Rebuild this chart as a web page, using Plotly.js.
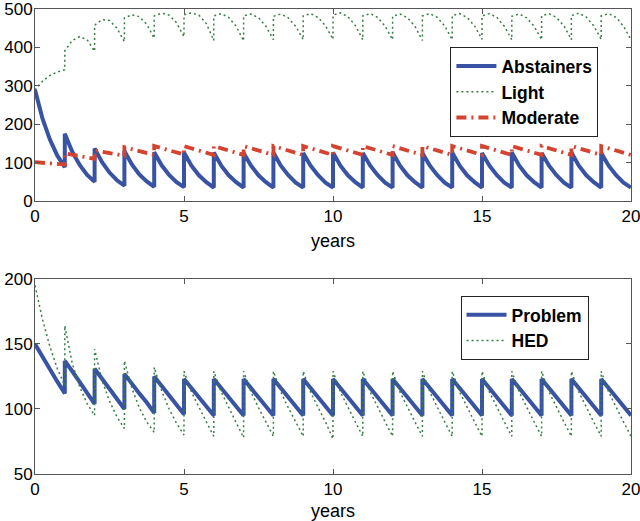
<!DOCTYPE html>
<html>
<head>
<meta charset="utf-8">
<script src="https://cdn.plot.ly/plotly-3.0.1.min.js"></script>
<style>html,body{margin:0;padding:0;background:#fff;}#chart{width:640px;height:521px;}</style>
</head>
<body>
<div id="chart"></div>
<script>
// time grid (years): per period start, quarter, half, three-quarter, end (before jump)
const years = [
0,0.25,0.5,0.75,1, 1,1.25,1.5,1.75,2, 2,2.25,2.5,2.75,3, 3,3.25,3.5,3.75,4, 4,4.25,4.5,4.75,5,
5,5.25,5.5,5.75,6, 6,6.25,6.5,6.75,7, 7,7.25,7.5,7.75,8, 8,8.25,8.5,8.75,9, 9,9.25,9.5,9.75,10,
10,10.25,10.5,10.75,11, 11,11.25,11.5,11.75,12, 12,12.25,12.5,12.75,13, 13,13.25,13.5,13.75,14, 14,14.25,14.5,14.75,15,
15,15.25,15.5,15.75,16, 16,16.25,16.5,16.75,17, 17,17.25,17.5,17.75,18, 18,18.25,18.5,18.75,19, 19,19.25,19.5,19.75,20
];

const abstainers = [
290,215,160,118,88, 175,128,94,68,50, 137,101,74,54,40, 130,95,69,51,37, 127,93,68,49,36,
126,92,67,49,35, 126,92,67,49,35, 125,92,67,49,35, 126,92,67,48,35, 125,92,67,48,35,
126,92,67,49,35, 125,92,67,48,35, 126,92,67,49,35, 125,92,67,48,35, 126,92,67,49,35,
125,92,67,48,35, 126,92,67,49,35, 125,92,67,48,35, 126,92,67,49,35, 125,92,67,48,35
];

const light = [
289,312,327,336,342, 391,418,428,420,390, 458,472,470,450,415, 477,485,480,460,424, 482,489,484,464,428,
485,490,484,462,418, 482,488,478,455,417, 482,487,477,455,420, 481,487,477,455,420, 482,488,478,456,421,
484,490,480,457,420, 482,488,478,455,420, 481,487,477,455,418, 482,488,478,456,420, 483,488,478,456,421,
482,488,478,455,420, 481,487,477,455,420, 482,488,478,456,420, 483,489,479,456,421, 482,488,478,455,420
];

const moderate = [
101,100,99,97,95, 124,120,116,113,110, 132,128,124,121,118, 140,135,130,125,120, 143,137,131,126,121,
143,137,131,126,120, 143,137,131,126,120, 143,137,131,126,120, 143,137,131,126,120, 143,137,131,126,120,
143,137,131,126,120, 143,137,131,126,120, 143,137,131,126,120, 143,137,131,126,120, 143,137,131,126,120,
143,137,131,126,120, 143,137,131,126,120, 143,137,131,126,120, 143,137,131,126,120, 143,137,131,126,120
];

const problem = [
150,140,131,121,112, 137,129,121,112,104, 131,123,116,108,100, 127,119,112,105,97, 125,118,110,103,96,
123,116,109,102,95, 123,116,109,102,95, 123,116,109,102,95, 123,116,109,102,95, 123,116,109,102,95,
123,116,109,102,95, 123,116,109,102,95, 123,116,109,102,95, 123,116,109,102,95, 123,116,109,102,95,
123,116,109,102,95, 123,116,109,102,95, 123,116,109,102,95, 123,116,109,102,95, 123,116,109,102,95
];

const hed = [
195,169,148,131,118, 164,135,117,104,95, 146,122,106,94,85, 137,116,101,90,82, 132,114,100,89,80,
129,113,101,90,79, 129,113,101,90,78, 129,113,101,90,79, 129,113,101,90,79, 129,113,101,90,77,
129,113,101,90,79, 129,113,101,90,79, 129,113,101,90,79, 129,113,101,90,79, 129,113,101,90,79,
129,113,101,90,79, 129,113,101,90,79, 129,113,101,90,79, 129,113,101,90,79, 129,113,101,90,79
];

const xTicks = [0,5,10,15,20];
const yTicksTop = [0,100,200,300,400,500];
const yTicksBottom = [50,100,150,200];

const BLUE = 'rgb(57,83,164)';
const RED = 'rgb(212,67,47)';
const GREEN = 'rgb(55,125,70)';
const FONT = 'Liberation Sans, Arial, Helvetica, sans-serif';

const traces = [
  {x: years, y: abstainers, type:'scatter', mode:'lines', name:'Abstainers',
   line:{color:BLUE, width:4}, xaxis:'x', yaxis:'y', legend:'legend'},
  {x: years, y: light, type:'scatter', mode:'lines', name:'Light',
   line:{color:GREEN, width:1.5, dash:'2px,3px'}, xaxis:'x', yaxis:'y', legend:'legend'},
  {x: years, y: moderate, type:'scatter', mode:'lines', name:'Moderate',
   line:{color:RED, width:3.8, dash:'10px,5px,2px,5px'}, xaxis:'x', yaxis:'y', legend:'legend'},
  {x: years, y: problem, type:'scatter', mode:'lines', name:'Problem',
   line:{color:BLUE, width:4}, xaxis:'x2', yaxis:'y2', legend:'legend2'},
  {x: years, y: hed, type:'scatter', mode:'lines', name:'HED',
   line:{color:GREEN, width:1.5, dash:'2px,3px'}, xaxis:'x2', yaxis:'y2', legend:'legend2'}
];

const axisBase = {
  showline:true, mirror:'ticks', linecolor:'#555', linewidth:1,
  ticks:'inside', ticklen:5, tickcolor:'#555', showgrid:false, zeroline:false,
  ticklabeloverflow:'allow',
  tickfont:{family:FONT, size:17, color:'#000'}
};

const legendBase = {
  bgcolor:'#fff', bordercolor:'#222', borderwidth:1,
  font:{family:FONT, size:17.5, color:'#000', weight:'bold'},
  xanchor:'left', yanchor:'top', itemwidth:40, tracegroupgap:0
};

const layout = {
  width:640, height:521,
  margin:{l:35, r:9, t:9, b:47},
  paper_bgcolor:'#fff', plot_bgcolor:'#fff',
  showlegend:true,
  xaxis: Object.assign({}, axisBase, {domain:[0,1], anchor:'y', range:[0,20], tickvals:xTicks,
    title:{text:'years', font:{family:FONT, size:18, color:'#000'}, standoff:9}}),
  yaxis: Object.assign({}, axisBase, {domain:[0.5871,1], anchor:'x', range:[0,500], tickvals:yTicksTop, ticklabelstandoff:-2}),
  xaxis2: Object.assign({}, axisBase, {domain:[0,1], anchor:'y2', range:[0,20], tickvals:xTicks,
    title:{text:'years', font:{family:FONT, size:18, color:'#000'}, standoff:9}}),
  yaxis2: Object.assign({}, axisBase, {domain:[0,0.4194], anchor:'x2', range:[50,200], tickvals:yTicksBottom, ticklabelstandoff:-2}),
  legend: Object.assign({}, legendBase, {x:0.697, y:0.918}),
  legend2: Object.assign({}, legendBase, {x:0.714, y:0.383})
};

Plotly.newPlot('chart', traces, layout, {displayModeBar:false, staticPlot:true});
</script>
</body>
</html>
